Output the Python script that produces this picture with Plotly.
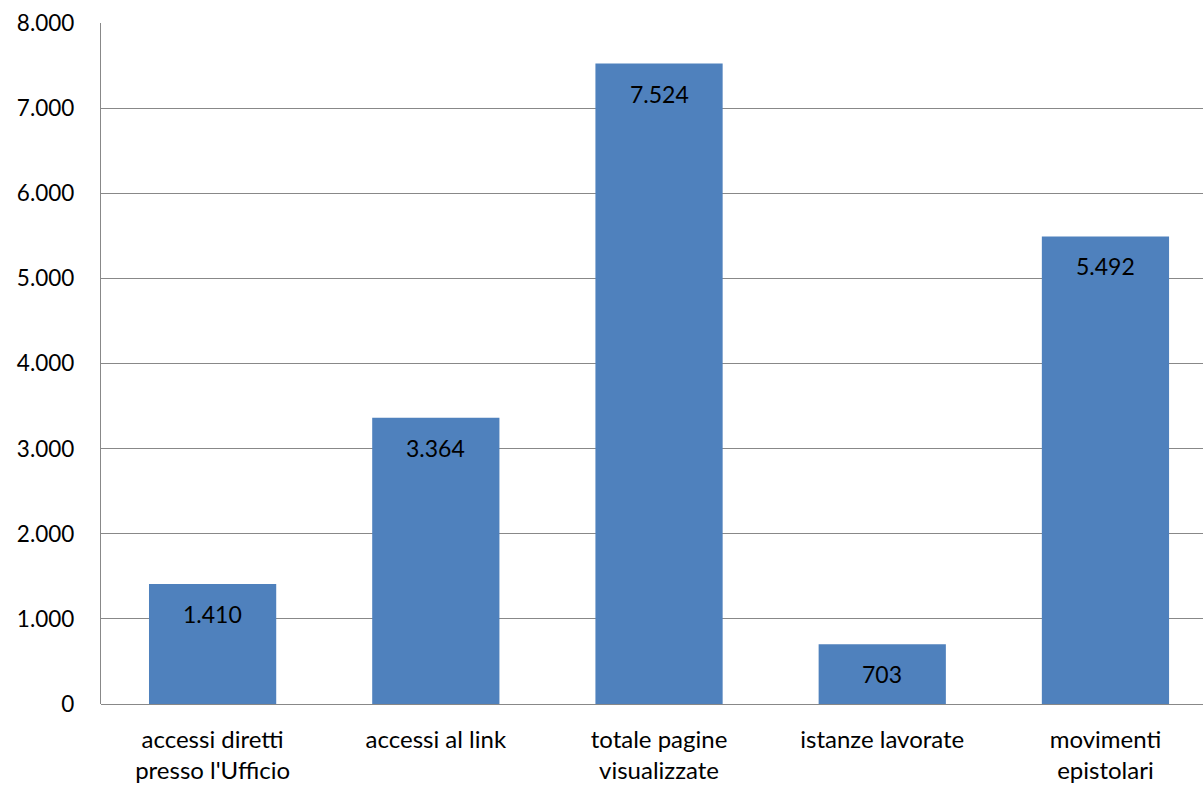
import plotly.graph_objects as go

categories = ["accessi diretti<br>presso l'Ufficio", "accessi al link", "totale pagine<br>visualizzate",
              "istanze lavorate", "movimenti<br>epistolari"]
values = [1410, 3364, 7524, 703, 5492]
y_ticks = [0, 1000, 2000, 3000, 4000, 5000, 6000, 7000, 8000]

FONT = "Lato"
fig = go.Figure()
fig.add_trace(go.Bar(
    x=list(range(len(categories))), y=values,
    marker=dict(color="#4F81BD", line=dict(width=0)),
    width=0.57, hoverinfo="skip",
))
for i, v in enumerate(values):
    fig.add_annotation(x=i, y=v, text=f"{v:,}".replace(",", "."), showarrow=False,
                       yshift=-30, font=dict(family=FONT, size=23, color="#000000"))

fig.update_layout(
    width=1203, height=785,
    margin=dict(l=101, r=0, t=23, b=81),
    plot_bgcolor="white", paper_bgcolor="white",
    separators=",.",
    showlegend=False,
    font=dict(family=FONT, size=22, color="#000000"),
    bargap=0.43,
)
fig.update_xaxes(
    tickmode="array", tickvals=list(range(len(categories))), ticktext=categories,
    range=[-0.5, 4.437], showgrid=False, showline=False, zeroline=False,
    ticks="", ticklabelstandoff=19, tickfont=dict(family=FONT, size=24, color="#000000"),
)
fig.update_yaxes(
    range=[0, 8000], tickmode="array", tickvals=y_ticks, tickformat=",d",
    showgrid=True, gridcolor="#888888", gridwidth=1.3,
    showline=True, linecolor="#888888", linewidth=1.3,
    zeroline=True, zerolinecolor="#888888", zerolinewidth=1.3,
    ticks="", ticklabelstandoff=21, tickfont=dict(family=FONT, size=22.5, color="#000000"),
)
fig.write_html("out.html")
